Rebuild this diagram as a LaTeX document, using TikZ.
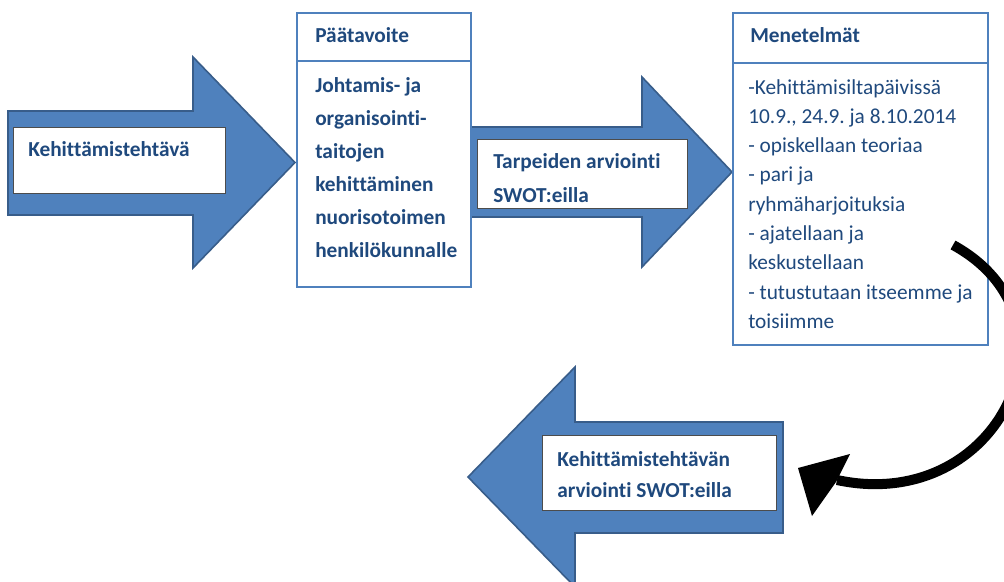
\documentclass[tikz,border=0pt]{standalone}
\usepackage{fontspec}
\setmainfont[RawFeature={-liga;-dlig;-clig}]{Carlito}
\frenchspacing
\definecolor{arrowblue}{HTML}{4F81BD}
\definecolor{arrowedge}{HTML}{385D8A}
\definecolor{txtblue}{HTML}{1F497D}
\begin{document}
\begin{tikzpicture}[x=0.75pt,y=-0.75pt,
  blockarrow/.style={fill=arrowblue,draw=arrowedge,line width=1.2pt,line join=miter},
  panel/.style={draw=arrowblue,line width=1.9pt,fill=white},
  inbox/.style={draw=black!70,line width=0.7pt,fill=white},
  boldtxt/.style={anchor=base west,inner sep=0pt,text=txtblue,font=\fontsize{16}{19}\selectfont\bfseries},
  bodytxt/.style={anchor=base west,inner sep=0pt,text=txtblue,font=\fontsize{16}{19}\selectfont}]
\useasboundingbox (0,0) rectangle (1004,582);
% arrow 1
\draw[blockarrow] (8,111) -- (193,111) -- (193,57) -- (295,162.5) -- (193,268) -- (193,215) -- (8,215) -- cycle;
\draw[inbox] (13,127) rectangle (225,193);
\node[boldtxt] (t1) at (28,156) {Kehittämistehtävä};
% arrow 2
\draw[blockarrow] (468,127) -- (642,127) -- (642,77) -- (732,172) -- (642,267) -- (642,217) -- (468,217) -- cycle;
\draw[inbox] (477,139) rectangle (687,208);
\node[boldtxt] (t2a) at (493,168) {Tarpeiden arviointi};
\node[boldtxt] (t2b) at (493,202) {SWOT:eilla};
% Paatavoite panel
\draw[panel] (297,13) rectangle (471,61);
\draw[panel] (297,61) rectangle (471,287);
\node[boldtxt] (pt) at (315,42) {Päätavoite};
\foreach \t [count=\i] in {{Johtamis- ja},{organisointi-},{taitojen},{kehittäminen},{nuorisotoimen},{henkilökunnalle}}
  \node[boldtxt] (p\i) at (315,{92+33*(\i-1)}) {\t};
% Menetelmat panel
\draw[panel] (733,13) rectangle (988,63);
\draw[panel] (733,63) rectangle (988,345);
\node[boldtxt] (mt) at (750,42) {Menetelmät};
\foreach \t [count=\i] in {{-Kehittämisiltapäivissä},{10.9., 24.9. ja 8.10.2014},{- opiskellaan teoriaa},{- pari ja},{ryhmäharjoituksia},{- ajatellaan ja},{keskustellaan},{- tutustutaan itseemme ja},{toisiimme}}
  \node[bodytxt] (m\i) at (748,{94+29.3*(\i-1)}) {\t};
% arrow 3
\draw[blockarrow] (783,422) -- (575,422) -- (575,367) -- (468,477) -- (575,587) -- (575,533) -- (783,533) -- cycle;
\draw[inbox] (542,435) rectangle (776,510);
\node[boldtxt] (t3a) at (557,466) {Kehittämistehtävän};
\node[boldtxt] (t3b) at (557,497) {arviointi SWOT:eilla};
% curved black arrow
\coordinate (cs) at (953,245);
\coordinate (ce) at (837,480);
\draw[line width=7.5pt,black] (cs) .. controls (1090,320) and (1000,515) .. (ce);
\fill[black] (798,468) -- (850,454) -- (836,482) -- (812,516) -- cycle;
\end{tikzpicture}
\end{document}
